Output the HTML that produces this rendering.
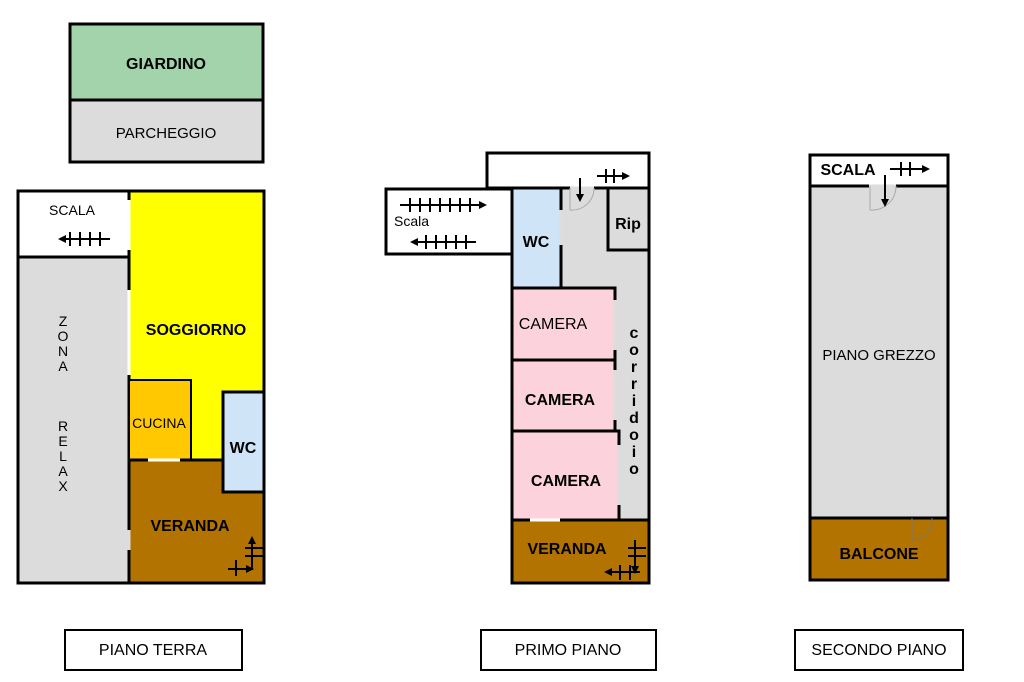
<!DOCTYPE html>
<html><head><meta charset="utf-8"><style>
html,body{margin:0;padding:0;background:#fff;width:1024px;height:682px;overflow:hidden}
text{font-family:"Liberation Sans",Arial,sans-serif;fill:#000}
.b{font-weight:bold}
</style></head><body>
<svg width="1024" height="682" viewBox="0 0 1024 682" xmlns="http://www.w3.org/2000/svg">
<g stroke="#000" stroke-width="3">
<!-- giardino / parcheggio -->
<rect x="70" y="24" width="193" height="76" fill="#a3d3aa"/>
<rect x="70" y="100" width="193" height="62" fill="#dcdcdc"/>
<!-- piano terra -->
<rect x="18" y="191" width="111" height="66" fill="#fff"/>
<rect x="18" y="257" width="111" height="326" fill="#dcdcdc"/>
<rect x="129" y="191" width="135" height="269" fill="#ffff00"/>
<rect x="129" y="380" width="62" height="80" fill="#ffc800" stroke-width="2"/>
<rect x="223" y="392" width="41" height="100" fill="#cfe4f7"/>
<path d="M129 460 H223 V492 H264 V583 H129 Z" fill="#b27300"/>
<!-- primo piano -->
<rect x="487" y="153" width="162" height="35" fill="#fff"/>
<rect x="386" y="189" width="126" height="65" fill="#fff"/>
<rect x="512" y="188" width="137" height="395" fill="#dcdcdc"/>
<rect x="512" y="188" width="49" height="100" fill="#cfe4f7"/>
<rect x="608" y="188" width="41" height="62" fill="#dcdcdc"/>
<rect x="512" y="288" width="103" height="72" fill="#fcd3dc"/>
<rect x="512" y="360" width="103" height="71" fill="#fcd3dc"/>
<rect x="512" y="431" width="107" height="89" fill="#fcd3dc"/>
<rect x="512" y="520" width="137" height="63" fill="#b27300"/>
<!-- secondo piano -->
<rect x="810" y="155" width="138" height="31" fill="#fff"/>
<rect x="810" y="186" width="138" height="332" fill="#dcdcdc"/>
<rect x="810" y="518" width="138" height="62" fill="#b27300"/>
<!-- labels -->
<rect x="65" y="630" width="177" height="40" fill="#fff" stroke-width="2"/>
<rect x="481" y="630" width="175" height="40" fill="#fff" stroke-width="2"/>
<rect x="795" y="630" width="168" height="40" fill="#fff" stroke-width="2"/>
</g>
<!-- door gaps -->
<g stroke="#fff" stroke-width="3">
<line x1="129" y1="200" x2="129" y2="250"/>
<line x1="129" y1="290" x2="129" y2="375"/>
<line x1="129" y1="530" x2="129" y2="550" stroke="#ddd"/>
<line x1="615" y1="300" x2="615" y2="350" stroke="#ddd"/>
<line x1="615" y1="370" x2="615" y2="420" stroke="#ddd"/>
<line x1="619" y1="445" x2="619" y2="505" stroke="#ddd"/>
<line x1="561" y1="210" x2="561" y2="245" stroke="#ddd"/>
<line x1="570" y1="188" x2="594" y2="188" stroke="#ddd"/>
<line x1="869" y1="186" x2="896" y2="186" stroke="#ddd"/>
<line x1="530" y1="520" x2="560" y2="520"/>
<line x1="148" y1="460" x2="180" y2="460"/>
</g>
<!-- stair arrows -->
<g stroke="#000" stroke-width="2" fill="none">
<line x1="62" y1="239" x2="110" y2="239"/><line x1="70" y1="232" x2="70" y2="246"/><line x1="80" y1="232" x2="80" y2="246"/><line x1="90" y1="232" x2="90" y2="246"/><line x1="100" y1="232" x2="100" y2="246"/>
<line x1="400" y1="205" x2="482" y2="205"/>
<line x1="410" y1="198" x2="410" y2="212"/><line x1="420" y1="198" x2="420" y2="212"/><line x1="430" y1="198" x2="430" y2="212"/><line x1="440" y1="198" x2="440" y2="212"/><line x1="450" y1="198" x2="450" y2="212"/><line x1="460" y1="198" x2="460" y2="212"/><line x1="470" y1="198" x2="470" y2="212"/>
<line x1="414" y1="242" x2="476" y2="242"/>
<line x1="426" y1="235" x2="426" y2="249"/><line x1="436" y1="235" x2="436" y2="249"/><line x1="446" y1="235" x2="446" y2="249"/><line x1="456" y1="235" x2="456" y2="249"/><line x1="466" y1="235" x2="466" y2="249"/>
<line x1="597" y1="176" x2="625" y2="176"/><line x1="606" y1="169" x2="606" y2="183"/><line x1="614" y1="169" x2="614" y2="183"/>
<line x1="580" y1="178" x2="580" y2="198"/>
<path d="M570 188 V210 A22 22 0 0 0 594 188" stroke="#aaa" stroke-width="1"/>
<line x1="890" y1="169" x2="925" y2="169"/><line x1="901" y1="162" x2="901" y2="176"/><line x1="910" y1="162" x2="910" y2="176"/>
<line x1="885" y1="175" x2="885" y2="203"/>
<path d="M870 186 V210 A24 24 0 0 0 896 186" stroke="#aaa" stroke-width="1"/>
<path d="M912 518 V540 A20 20 0 0 0 932 518" stroke="#777" stroke-width="1"/>
<line x1="252" y1="540" x2="252" y2="570"/><line x1="228" y1="569" x2="250" y2="569"/>
<line x1="245" y1="548" x2="264" y2="548"/><line x1="245" y1="556" x2="264" y2="556"/><line x1="236" y1="560" x2="236" y2="576"/>
<line x1="635" y1="540" x2="635" y2="572"/><line x1="608" y1="572" x2="640" y2="572"/>
<line x1="628" y1="548" x2="646" y2="548"/><line x1="628" y1="556" x2="646" y2="556"/><line x1="620" y1="565" x2="620" y2="580"/><line x1="630" y1="565" x2="630" y2="580"/>
</g>
<g fill="#000">
<polygon points="58,239 66,235 66,243"/>
<polygon points="487,205 479,201 479,209"/>
<polygon points="410,242 418,238 418,246"/>
<polygon points="630,176 622,172 622,180"/>
<polygon points="580,202 576,194 584,194"/>
<polygon points="930,169 922,165 922,173"/>
<polygon points="885,207 881,199 889,199"/>
<polygon points="252,536 248,544 256,544"/>
<polygon points="254,569 246,565 246,573"/>
<polygon points="635,574 631,566 639,566"/>
<polygon points="604,572 612,568 612,576"/>
</g>
<text x="166" y="69" font-size="16" class="b" text-anchor="middle">GIARDINO</text>
<text x="166" y="138" font-size="15" text-anchor="middle">PARCHEGGIO</text>
<text x="72" y="215" font-size="14" text-anchor="middle">SCALA</text>
<g font-size="14" text-anchor="middle">
<text x="63" y="326">Z</text><text x="63" y="341">O</text><text x="63" y="356">N</text><text x="63" y="371">A</text>
<text x="63" y="431">R</text><text x="63" y="446">E</text><text x="63" y="461">L</text><text x="63" y="476">A</text><text x="63" y="491">X</text>
</g>
<text x="196" y="335" font-size="16" class="b" text-anchor="middle">SOGGIORNO</text>
<text x="159" y="428" font-size="14" text-anchor="middle">CUCINA</text>
<text x="243" y="453" font-size="16" class="b" text-anchor="middle">WC</text>
<text x="190" y="531" font-size="16" class="b" text-anchor="middle">VERANDA</text>
<text x="394" y="226" font-size="14">Scala</text>
<text x="536" y="247" font-size="16" class="b" text-anchor="middle">WC</text>
<text x="628" y="229" font-size="16" class="b" text-anchor="middle">Rip</text>
<text x="553" y="329" font-size="16" text-anchor="middle">CAMERA</text>
<text x="560" y="405" font-size="16" class="b" text-anchor="middle">CAMERA</text>
<text x="566" y="486" font-size="16" class="b" text-anchor="middle">CAMERA</text>
<g font-size="16" class="b" text-anchor="middle">
<text x="634" y="338">c</text><text x="634" y="355">o</text><text x="634" y="372">r</text><text x="634" y="389">r</text><text x="634" y="406">i</text><text x="634" y="423">d</text><text x="634" y="440">o</text><text x="634" y="457">i</text><text x="634" y="474">o</text>
</g>
<text x="567" y="554" font-size="16" class="b" text-anchor="middle">VERANDA</text>
<text x="848" y="175" font-size="16" class="b" text-anchor="middle">SCALA</text>
<text x="879" y="360" font-size="15" text-anchor="middle">PIANO GREZZO</text>
<text x="879" y="559" font-size="16" class="b" text-anchor="middle">BALCONE</text>
<text x="153" y="655" font-size="16" text-anchor="middle">PIANO TERRA</text>
<text x="568" y="655" font-size="16" text-anchor="middle">PRIMO PIANO</text>
<text x="879" y="655" font-size="16" text-anchor="middle">SECONDO PIANO</text>
</svg>
</body></html>
